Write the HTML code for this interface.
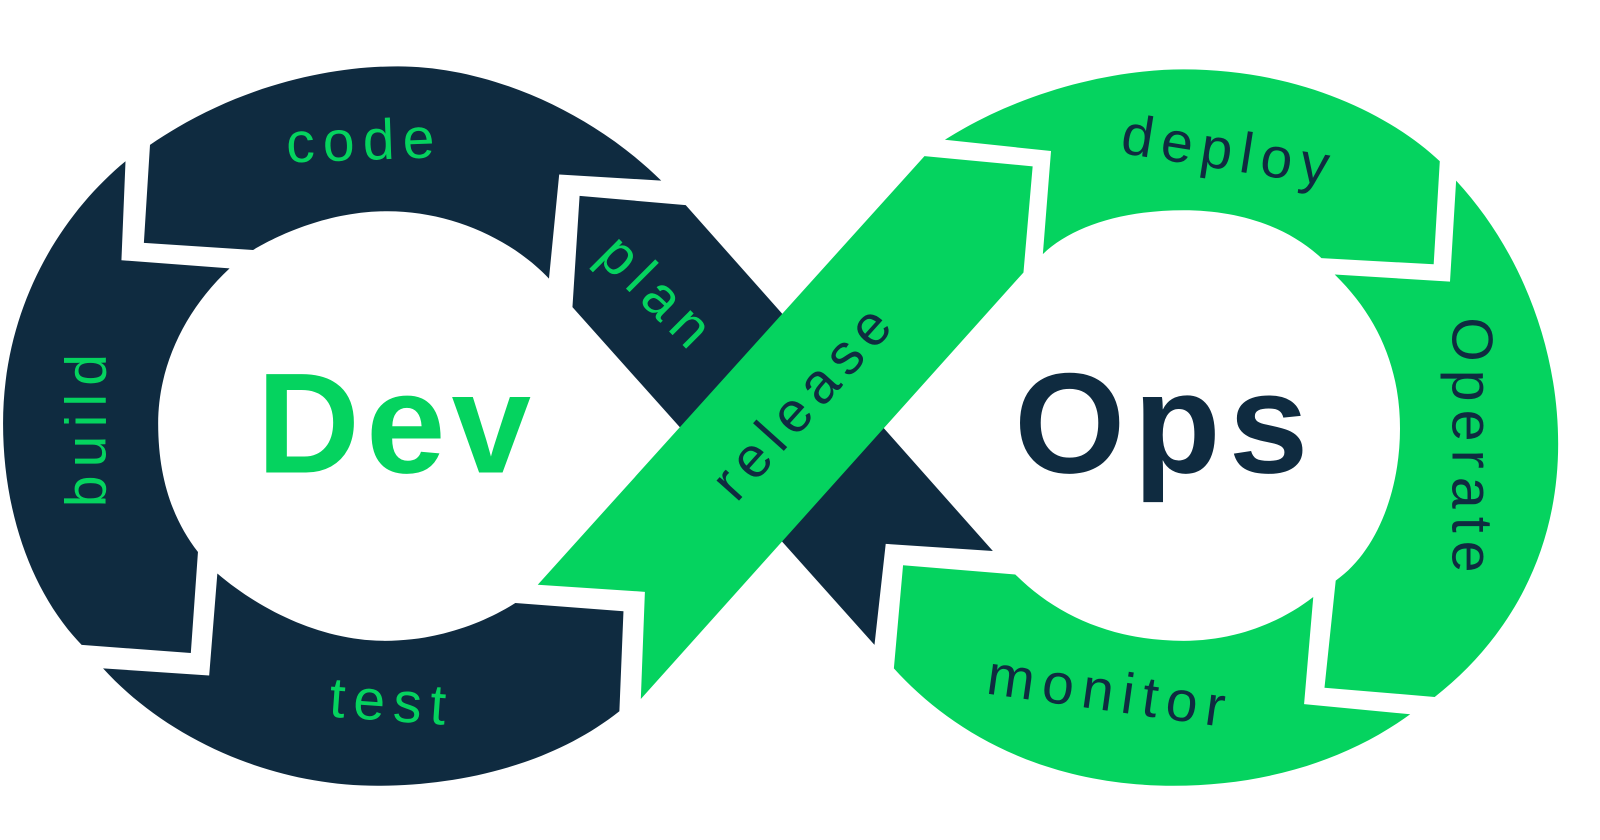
<!DOCTYPE html>
<html><head><meta charset="utf-8"><style>
html,body{margin:0;padding:0;background:#fff;width:1600px;height:840px;overflow:hidden}
svg{display:block}
text{font-family:"Liberation Sans",sans-serif}
</style></head><body>
<svg width="1600" height="840" viewBox="0 0 1568 823.2" xmlns="http://www.w3.org/2000/svg">
<g fill="#0f2b40">
<path d="M147,142 C230,85 320,65 390,65 C480,65 580,110 648,177 L548,171 L538,273 C500,233 440,207 380,207 C320,207 270,232 248,245 L141,238 Z"/>
<path d="M568,192 L672,201 L973,540 L868,533 L857,632 L561,301 Z"/>
<path d="M123,158 L119,255 L225,263 C180,305 155,360 155,415 C155,470 170,510 194,541 L187,640 L80,632 C30,580 3,500 3,415 C3,300 60,210 123,158 Z"/>
<path d="M101,655 L205,662 L213,562 C260,602 320,628 377,628 C430,628 475,610 505,591 L611,599 L607,697 C540,750 450,770 370,770 C260,770 160,720 101,655 Z"/>
</g>
<g fill="#05d35f">
<path d="M906,153 L1012,163 L1003,267 L628,685 L632,580 L527,573 Z"/>
<path d="M926,137 C1000,90 1090,68 1160,68 C1270,68 1360,110 1411,158 L1405,259 L1295,253 C1260,220 1210,206 1160,206 C1100,206 1050,222 1022,249 L1030,148 Z"/>
<path d="M1427,177 C1490,245 1527,340 1527,435 C1527,540 1480,625 1406,683 L1298,674 L1309,569 C1350,540 1372,480 1372,420 C1372,360 1350,310 1308,269 L1421,276 Z"/>
<path d="M885,554 L995,563 C1035,603 1090,628 1160,628 C1210,628 1255,610 1287,585 L1278,690 L1382,700 C1320,745 1240,770 1150,770 C1020,770 930,715 876,655 Z"/>
</g>
<text x="389" y="463" text-anchor="middle" font-size="140" font-weight="bold" fill="#05d35f" letter-spacing="6">Dev</text>
<text x="1142" y="463" text-anchor="middle" font-size="140" font-weight="bold" fill="#0f2b40" letter-spacing="8">Ops</text>
<g font-size="56" text-anchor="middle" dominant-baseline="central" letter-spacing="8">
<text x="357" y="138" fill="#05d35f" transform="rotate(-2 357 138)">code</text>
<text x="85" y="418" fill="#05d35f" transform="rotate(-90 85 418)">build</text>
<text x="645" y="288" fill="#05d35f" transform="rotate(45 645 288)">plan</text>
<text x="384" y="688" fill="#05d35f" transform="rotate(4 384 688)">test</text>
<text x="788" y="392" fill="#0f2b40" transform="rotate(-48 788 392)">release</text>
<text x="1205" y="148" fill="#0f2b40" transform="rotate(9 1205 148)">deploy</text>
<text x="1442" y="440" fill="#0f2b40" transform="rotate(90 1442 440)">Operate</text>
<text x="1088" y="678" fill="#0f2b40" transform="rotate(8 1088 678)">monitor</text>
</g>
</svg>
</body></html>
